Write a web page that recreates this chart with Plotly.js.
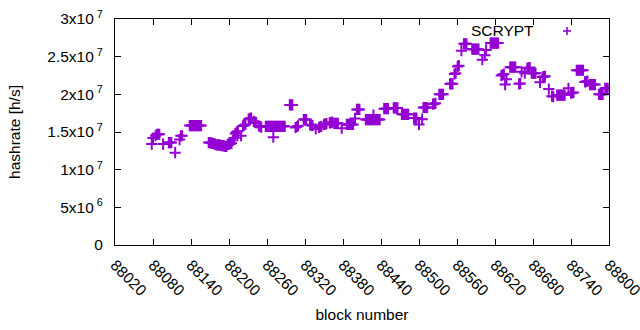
<!DOCTYPE html>
<html>
<head>
<meta charset="utf-8">
<script src="https://cdn.plot.ly/plotly-3.0.1.min.js"></script>
<style>html,body{margin:0;padding:0;background:#fff;}#chart{width:640px;height:330px;}</style>
</head>
<body>
<div id="chart"></div>
<script>
// block numbers
var blocks = [
88078,88080,88084,88086,88088,88090,88096,88105,88107,88109,88115,88122,88124,88126,
88138,88140,88142,88144,88146,88148,88150,88152,88154,88156,
88168,88170,88172,88174,88176,88178,88180,88182,88184,88186,88188,88190,88192,88194,88196,88198,88200,88202,88204,88206,88208,88210,88212,88214,88219,
88222,88224,88226,88231,88233,88235,88239,88241,88243,88247,88249,88251,
88258,88260,88262,88264,88266,88268,88270,88270,88272,88274,88276,88278,88280,88282,88284,88286,88288,
88296,88298,88300,88305,88307,88309,88318,88320,88322,88328,88330,88332,88337,88342,88344,88346,88350,88352,88354,88359,88361,88363,88366,88368,88370,88372,88378,
88386,88388,88390,88392,88394,88396,88399,88402,88404,88406,
88416,88418,88420,88422,88424,88426,88428,88428,88430,88432,88434,88436,88438,
88445,88447,88449,88451,88460,88462,88464,88466,88473,88475,88477,88479,88481,88483,88492,88494,88496,88500,88505,
88507,88509,88511,88513,88522,88524,88526,88532,88534,88536,88538,88549,88551,88553,88556,88558,88561,88563,88567,88571,88573,88575,
88584,88586,88588,88590,88592,88594,88600,88604,88606,88613,88615,88617,88619,88621,88623,88625,
88630,88632,88634,88636,88638,88644,88646,88648,88650,88652,88658,88660,88662,88667,88671,88673,88675,88678,88680,88682,88684,
88691,88695,88697,88699,88705,88710,88712,88718,88720,88722,88724,88726,88728,88730,88736,88740,88742,88744,
88749,88751,88753,88755,88757,88759,88762,88764,88766,88770,88772,88774,88776,88778,88784,88786,88788,88790,88794,88796,88798
];
// hashrate [h/s]
var hashrate = [
13.4e6,14.2e6,14.5e6,14.7e6,14.7e6,14.7e6,13.4e6,13.6e6,13.6e6,13.6e6,12.25e6,14.0e6,14.5e6,14.5e6,
15.85e6,15.85e6,15.85e6,15.85e6,15.85e6,15.85e6,15.85e6,15.85e6,15.85e6,15.85e6,
13.6e6,13.6e6,13.55e6,13.5e6,13.45e6,13.4e6,13.3e6,13.3e6,13.3e6,13.25e6,13.2e6,13.2e6,13.15e6,13.1e6,13.1e6,13.35e6,13.4e6,13.45e6,13.5e6,13.9e6,14.2e6,14.8e6,15.0e6,15.1e6,14.5e6,
15.8e6,15.9e6,16.0e6,16.7e6,16.8e6,16.85e6,16.4e6,16.3e6,16.2e6,15.8e6,15.7e6,15.65e6,
15.75e6,15.75e6,15.75e6,15.75e6,15.75e6,15.75e6,14.3e6,15.75e6,15.75e6,15.75e6,15.75e6,15.75e6,15.75e6,15.75e6,15.75e6,15.75e6,15.75e6,
18.6e6,18.6e6,18.6e6,15.6e6,15.7e6,15.8e6,16.65e6,16.65e6,16.65e6,15.95e6,15.9e6,15.85e6,15.4e6,15.6e6,15.7e6,15.75e6,16.0e6,16.05e6,16.1e6,16.2e6,16.25e6,16.3e6,16.15e6,16.15e6,16.15e6,16.15e6,15.5e6,
16.0e6,16.0e6,16.0e6,16.0e6,16.0e6,16.0e6,16.8e6,18.0e6,18.0e6,18.0e6,
16.65e6,16.65e6,16.65e6,16.65e6,16.65e6,16.65e6,17.25e6,16.65e6,16.65e6,16.65e6,16.65e6,16.65e6,16.65e6,
18.1e6,18.1e6,18.1e6,18.1e6,18.2e6,18.2e6,18.2e6,18.2e6,17.35e6,17.35e6,17.35e6,17.35e6,17.35e6,17.35e6,16.85e6,16.85e6,16.85e6,16.0e6,16.7e6,
18.25e6,18.25e6,18.25e6,18.25e6,18.7e6,18.75e6,18.8e6,20.0e6,20.0e6,20.0e6,20.0e6,21.4e6,21.4e6,21.4e6,22.7e6,22.8e6,23.7e6,23.8e6,25.8e6,26.7e6,26.7e6,26.7e6,
26.0e6,26.0e6,26.0e6,26.0e6,26.0e6,26.0e6,24.6e6,25.2e6,25.9e6,26.8e6,26.8e6,26.8e6,26.8e6,26.8e6,26.8e6,26.8e6,
22.5e6,22.6e6,22.7e6,21.3e6,22.0e6,23.6e6,23.6e6,23.6e6,23.6e6,23.6e6,21.4e6,21.45e6,23.0e6,22.8e6,23.45e6,23.5e6,23.55e6,22.8e6,22.8e6,22.8e6,22.8e6,
21.6e6,22.3e6,22.35e6,22.4e6,20.7e6,19.75e6,19.7e6,19.9e6,19.9e6,19.9e6,19.9e6,19.9e6,19.9e6,19.9e6,20.8e6,20.15e6,20.2e6,20.25e6,
23.2e6,23.2e6,23.2e6,23.2e6,23.2e6,23.2e6,21.65e6,21.7e6,21.75e6,21.3e6,21.3e6,21.3e6,21.3e6,21.3e6,20.0e6,20.0e6,20.0e6,20.0e6,20.8e6,20.8e6,20.8e6
];
var seriesName = "SCRYPT";
var xTickVals = [88020,88080,88140,88200,88260,88320,88380,88440,88500,88560,88620,88680,88740,88800];
var xTickText = ["88020","88080","88140","88200","88260","88320","88380","88440","88500","88560","88620","88680","88740","88800"];
var yTickVals = [0,5e6,1e7,1.5e7,2e7,2.5e7,3e7];
var yTickText = ["0","5x10<sup> 6</sup>","1x10<sup> 7</sup>","1.5x10<sup> 7</sup>","2x10<sup> 7</sup>","2.5x10<sup> 7</sup>","3x10<sup> 7</sup>"];

var purple = "#9400d3";
var fontFam = "Liberation Sans, Arial, sans-serif";

var trace = {
  x: blocks, y: hashrate, type: "scatter", mode: "markers", name: seriesName,
  marker: {symbol: "cross-thin", size: 8, color: purple, line: {color: purple, width: 2}},
  showlegend: false
};

var axisCommon = {
  showline: true, linecolor: "#000", linewidth: 1, mirror: "ticks",
  ticks: "inside", ticklen: 6, tickcolor: "#000", tickwidth: 1,
  showgrid: false, zeroline: false, tickmode: "array",
  tickfont: {family: fontFam, size: 15.5, color: "#000"}
};

var layout = {
  width: 640, height: 330,
  margin: {l: 115, r: 31, t: 19, b: 85},
  paper_bgcolor: "#fff", plot_bgcolor: "#fff",
  font: {family: fontFam, size: 15.5, color: "#000"},
  xaxis: Object.assign({}, axisCommon, {
    range: [88020, 88800], tickvals: xTickVals, ticktext: xTickText, tickangle: 45,
    ticklabelstandoff: 4, ticklabeloverflow: "allow",
    title: {text: "block number", font: {family: fontFam, size: 15.5, color: "#000"}, standoff: 10}
  }),
  yaxis: Object.assign({}, axisCommon, {
    range: [0, 3e7], tickvals: yTickVals, ticktext: yTickText,
    ticklabelstandoff: 8,
    title: {text: "hashrate [h/s]", font: {family: fontFam, size: 15.5, color: "#000"}, standoff: 22}
  }),
  annotations: [{
    xref: "paper", yref: "paper", x: 0.852, y: 0.947, xanchor: "right", yanchor: "middle",
    text: seriesName, showarrow: false, font: {family: fontFam, size: 15.5, color: "#000"}
  }],
  shapes: [
    {type: "line", xref: "paper", yref: "paper", xsizemode: "pixel", ysizemode: "pixel",
     xanchor: 0.915, yanchor: 0.947, x0: -4, x1: 4, y0: 0, y1: 0, line: {color: purple, width: 1.6}},
    {type: "line", xref: "paper", yref: "paper", xsizemode: "pixel", ysizemode: "pixel",
     xanchor: 0.915, yanchor: 0.947, x0: 0, x1: 0, y0: -4, y1: 4, line: {color: purple, width: 1.6}}
  ]
};

Plotly.newPlot("chart", [trace], layout, {staticPlot: true, displayModeBar: false});
</script>
</body>
</html>
